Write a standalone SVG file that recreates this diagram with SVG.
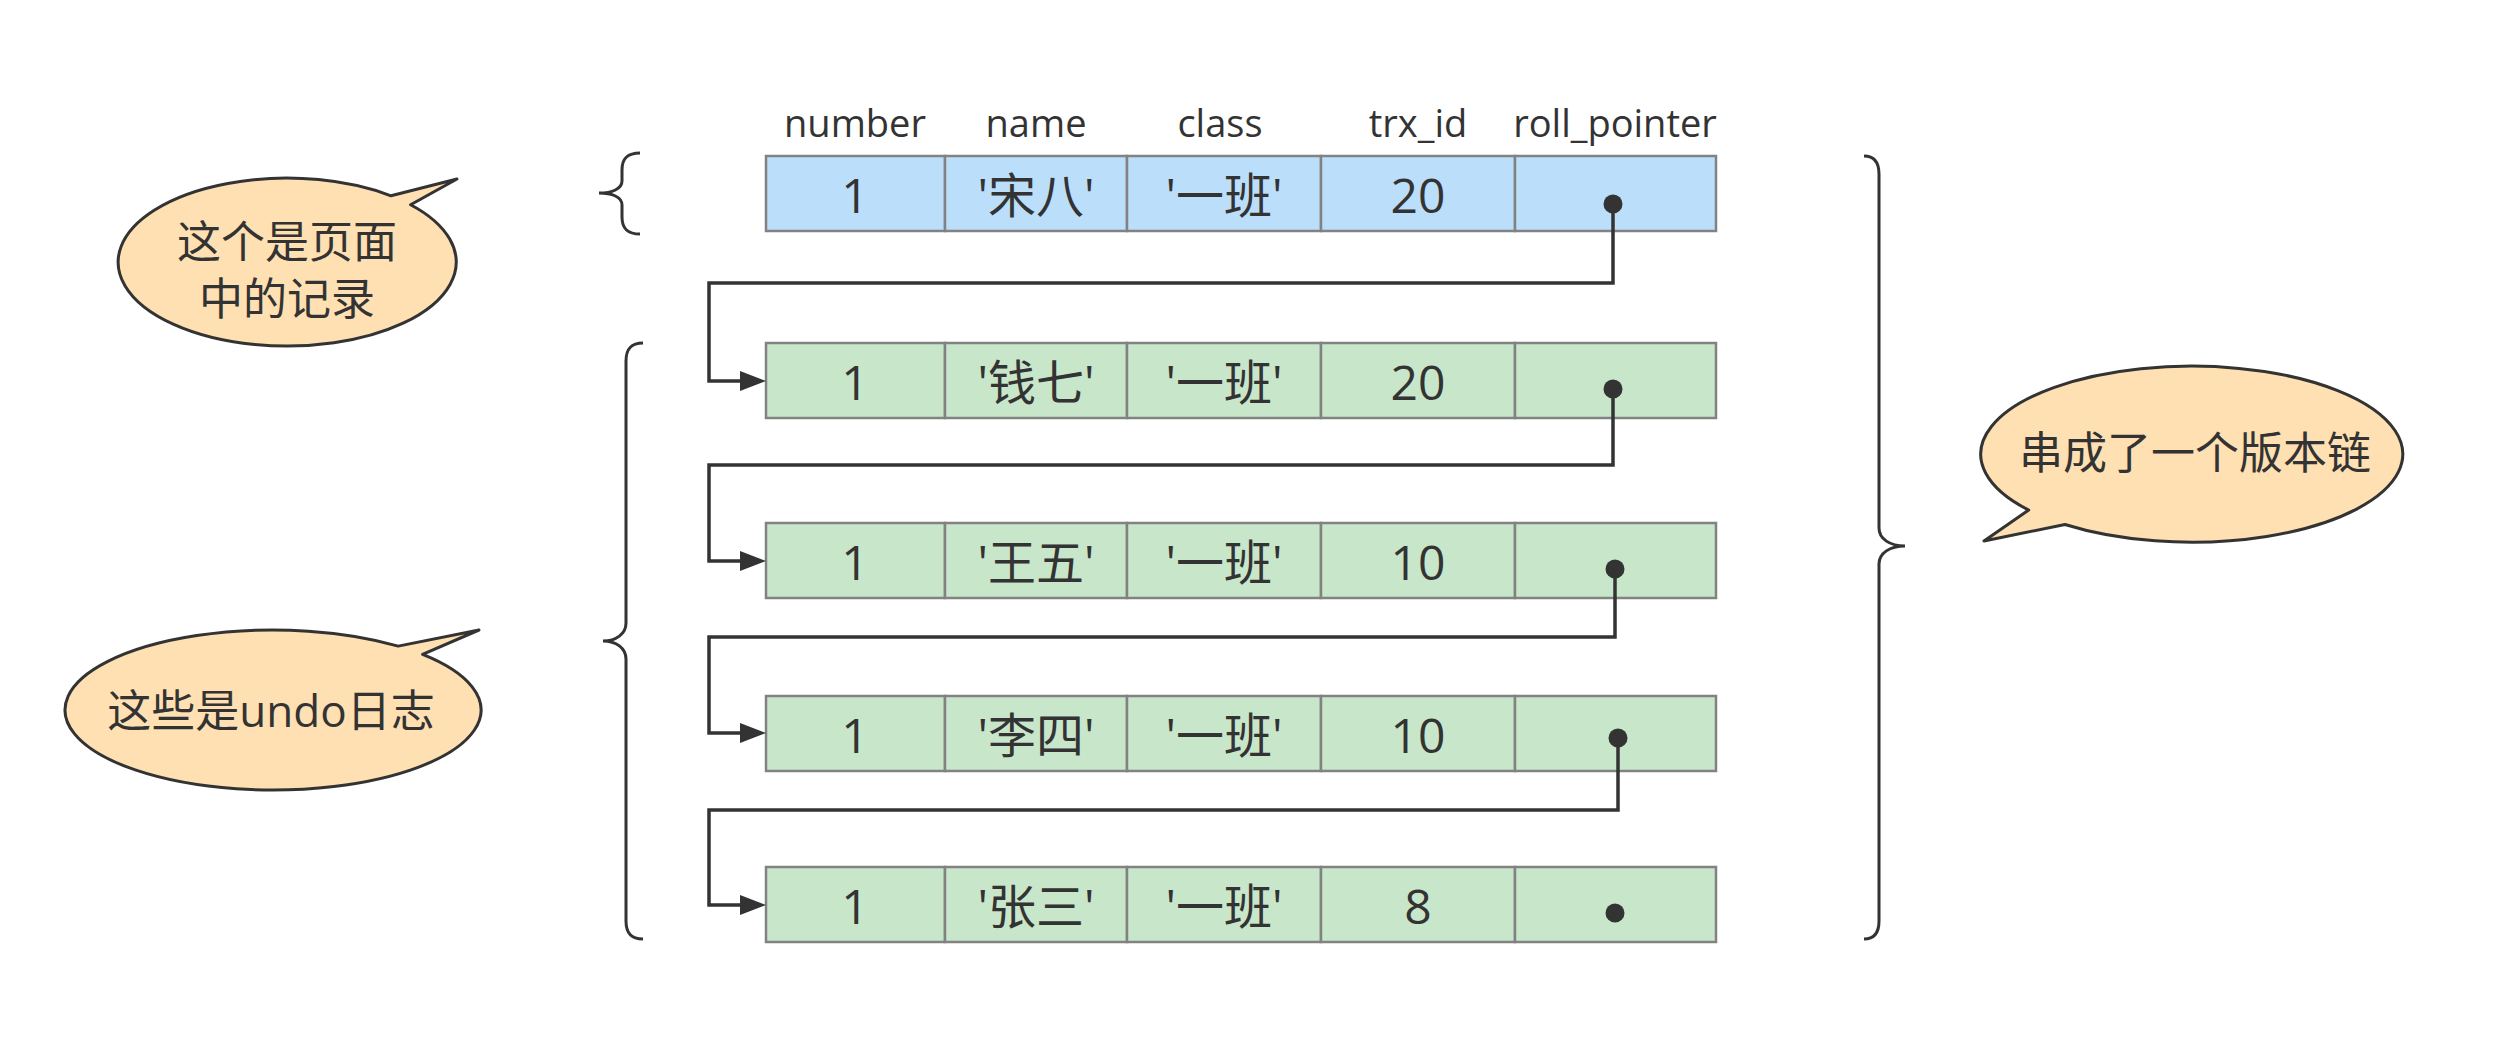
<svg xmlns="http://www.w3.org/2000/svg" width="2520" height="1057" viewBox="0 0 2520 1057">
<style>
.bg{fill:#ffffff}
.cellb{fill:#bbdefb;stroke:#828282;stroke-width:2.5}
.cellg{fill:#c8e6c9;stroke:#828282;stroke-width:2.5}
.t{font-family:"Open Sans","Noto Sans CJK SC",sans-serif;fill:#333333;text-anchor:middle}
.hdr{font-size:38px}
.val{font-size:48px}
.note{font-family:"Open Sans","Noto Sans CJK SC",sans-serif;font-size:44px;fill:#333333;text-anchor:middle}
.dot{fill:#333333}
.conn{fill:none;stroke:#333333;stroke-width:3.5;marker-end:url(#arr)}
.brace{fill:none;stroke:#333333;stroke-width:3}
.call{fill:#ffe0b2;stroke:#333333;stroke-width:3;stroke-linejoin:round}
</style>
<defs>
<marker id="arr" markerUnits="userSpaceOnUse" markerWidth="26" markerHeight="20" refX="10" refY="10" orient="auto">
<path d="M0,0 L26,10 L0,20 Z" fill="#333333"/>
</marker>
</defs>
<rect class="bg" x="0" y="0" width="2520" height="1057"/>

<g id="headers">
<text class="t hdr" x="855" y="137">number</text>
<text class="t hdr" x="1036" y="137">name</text>
<text class="t hdr" x="1220" y="137">class</text>
<text class="t hdr" x="1418" y="137">trx_id</text>
<text class="t hdr" x="1615" y="137">roll_pointer</text>
</g>

<g id="row1">
<rect class="cellb" x="766" y="156" width="179" height="75"/>
<rect class="cellb" x="945" y="156" width="182" height="75"/>
<rect class="cellb" x="1127" y="156" width="194" height="75"/>
<rect class="cellb" x="1321" y="156" width="194" height="75"/>
<rect class="cellb" x="1515" y="156" width="201" height="75"/>
<text class="t val" x="855" y="213">1</text>
<text class="t val" x="1036" y="213">'宋八'</text>
<text class="t val" x="1224" y="213">'一班'</text>
<text class="t val" x="1418" y="213">20</text>
<circle class="dot" cx="1613" cy="204" r="9.5"/>
</g>

<g id="row2">
<rect class="cellg" x="766" y="343" width="179" height="75"/>
<rect class="cellg" x="945" y="343" width="182" height="75"/>
<rect class="cellg" x="1127" y="343" width="194" height="75"/>
<rect class="cellg" x="1321" y="343" width="194" height="75"/>
<rect class="cellg" x="1515" y="343" width="201" height="75"/>
<text class="t val" x="855" y="400">1</text>
<text class="t val" x="1036" y="400">'钱七'</text>
<text class="t val" x="1224" y="400">'一班'</text>
<text class="t val" x="1418" y="400">20</text>
<circle class="dot" cx="1613" cy="389" r="9.5"/>
</g>

<g id="row3">
<rect class="cellg" x="766" y="523" width="179" height="75"/>
<rect class="cellg" x="945" y="523" width="182" height="75"/>
<rect class="cellg" x="1127" y="523" width="194" height="75"/>
<rect class="cellg" x="1321" y="523" width="194" height="75"/>
<rect class="cellg" x="1515" y="523" width="201" height="75"/>
<text class="t val" x="855" y="580">1</text>
<text class="t val" x="1036" y="580">'王五'</text>
<text class="t val" x="1224" y="580">'一班'</text>
<text class="t val" x="1418" y="580">10</text>
<circle class="dot" cx="1615" cy="569" r="9.5"/>
</g>

<g id="row4">
<rect class="cellg" x="766" y="696" width="179" height="75"/>
<rect class="cellg" x="945" y="696" width="182" height="75"/>
<rect class="cellg" x="1127" y="696" width="194" height="75"/>
<rect class="cellg" x="1321" y="696" width="194" height="75"/>
<rect class="cellg" x="1515" y="696" width="201" height="75"/>
<text class="t val" x="855" y="753">1</text>
<text class="t val" x="1036" y="753">'李四'</text>
<text class="t val" x="1224" y="753">'一班'</text>
<text class="t val" x="1418" y="753">10</text>
<circle class="dot" cx="1618" cy="738" r="9.5"/>
</g>

<g id="row5">
<rect class="cellg" x="766" y="867" width="179" height="75"/>
<rect class="cellg" x="945" y="867" width="182" height="75"/>
<rect class="cellg" x="1127" y="867" width="194" height="75"/>
<rect class="cellg" x="1321" y="867" width="194" height="75"/>
<rect class="cellg" x="1515" y="867" width="201" height="75"/>
<text class="t val" x="855" y="924">1</text>
<text class="t val" x="1036" y="924">'张三'</text>
<text class="t val" x="1224" y="924">'一班'</text>
<text class="t val" x="1418" y="924">8</text>
<circle class="dot" cx="1615" cy="913" r="9.5"/>
</g>

<g id="connectors">
<path class="conn" d="M1613,204 V283 H709 V381 H750"/>
<path class="conn" d="M1613,389 V465 H709 V561 H750"/>
<path class="conn" d="M1615,569 V637 H709 V733 H750"/>
<path class="conn" d="M1618,738 V810 H709 V905 H750"/>
</g>

<g id="brace-page">
<path class="brace" d="M640,153 C628,153 622,158 622,170 V181 C622,189 612,193 599,193 C612,193 622,197 622,205 V217 C622,229 628,234 640,234"/>
</g>
<g id="brace-undo">
<path class="brace" d="M643,343 C631,343 626,349 626,361 V623 C626,634 616,641 603,641 C616,641 626,648 626,659 V921 C626,933 631,939 643,939"/>
</g>
<g id="brace-chain">
<path class="brace" d="M1864,156 C1874,156 1879,162 1879,174 V528 C1879,539 1890,546 1905,546 C1890,546 1879,553 1879,564 V921 C1879,933 1874,939 1864,939"/>
</g>

<g id="callout-page">
<path class="call" d="M391,195.8 L457,179 L410.6,204.7 A169,84 0 1 1 391,195.8 Z"/>
<text class="note" x="287" y="258">这个是页面</text>
<text class="note" x="287" y="315">中的记录</text>
</g>

<g id="callout-undo">
<path class="call" d="M398.2,646.1 L479,630 L422.6,654.4 A208,80 0 1 1 398.2,646.1 Z"/>
<text class="note" x="271" y="727">这些是undo日志</text>
</g>

<g id="callout-chain">
<path class="call" d="M2028.7,510 L1984,541 L2065,524.5 A211,88 0 1 0 2028.7,510 Z"/>
<text class="note" x="2195" y="469">串成了一个版本链</text>
</g>
</svg>
